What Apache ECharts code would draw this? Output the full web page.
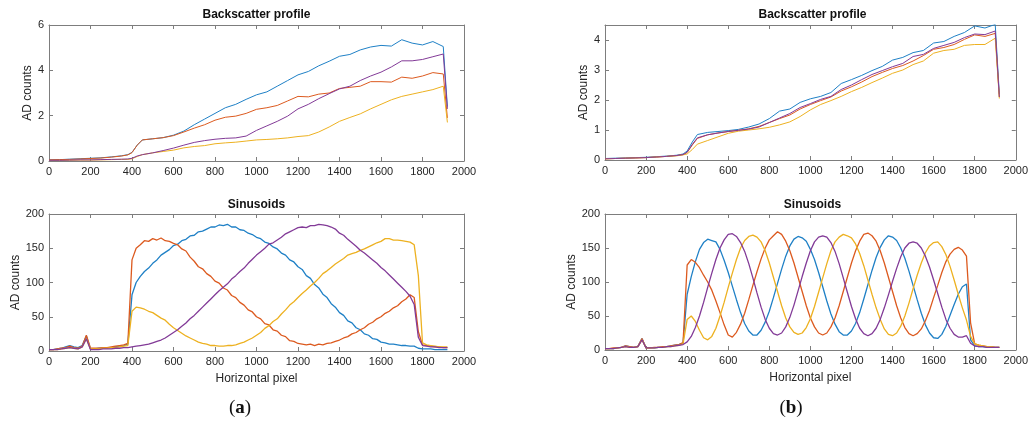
<!DOCTYPE html>
<html><head><meta charset="utf-8">
<script src="https://cdn.jsdelivr.net/npm/echarts@6/dist/echarts.min.js"></script>
<style>html,body{margin:0;padding:0;background:#fff}#c{width:1031px;height:432px}</style>
</head><body><div id="c"></div>
<script>
// ---------- data ----------
const xTicks = [0,200,400,600,800,1000,1200,1400,1600,1800,2000];
const bsX = [0,50,100,150,200,250,300,350,380,400,425,450,500,550,600,650,700,750,800,850,900,950,1000,1050,1100,1150,1200,1250,1300,1350,1400,1450,1500,1550,1600,1650,1700,1750,1800,1850,1900,1920];

const bsA_blue   = [0.05,0.06,0.08,0.10,0.12,0.14,0.18,0.23,0.28,0.38,0.70,0.93,0.98,1.03,1.14,1.32,1.60,1.85,2.10,2.35,2.50,2.72,2.92,3.05,3.30,3.55,3.80,3.95,4.20,4.40,4.62,4.70,4.90,5.03,5.10,5.07,5.35,5.20,5.12,5.27,5.05,2.40];
const bsA_orange = [0.05,0.06,0.07,0.09,0.11,0.13,0.17,0.22,0.27,0.37,0.70,0.93,0.98,1.03,1.12,1.28,1.45,1.60,1.80,1.93,1.98,2.10,2.28,2.35,2.45,2.65,2.85,2.83,2.95,3.00,3.20,3.25,3.30,3.50,3.50,3.48,3.70,3.65,3.75,3.90,3.84,1.90];
const bsA_yellow = [0.02,0.02,0.03,0.04,0.04,0.05,0.06,0.07,0.07,0.10,0.20,0.28,0.36,0.42,0.48,0.58,0.64,0.68,0.76,0.80,0.83,0.88,0.93,0.95,0.98,1.02,1.08,1.12,1.28,1.50,1.75,1.92,2.08,2.30,2.50,2.70,2.85,2.95,3.05,3.15,3.30,1.70];
const bsA_purple = [0.03,0.03,0.04,0.05,0.05,0.06,0.07,0.08,0.09,0.12,0.22,0.28,0.36,0.46,0.57,0.70,0.82,0.90,0.96,1.00,1.02,1.10,1.35,1.55,1.75,1.98,2.30,2.50,2.75,2.97,3.18,3.30,3.55,3.75,3.92,4.15,4.42,4.42,4.48,4.60,4.72,2.30];

const bsB_blue   = [0.05,0.06,0.07,0.08,0.09,0.11,0.13,0.16,0.20,0.30,0.60,0.85,0.92,0.95,0.98,1.02,1.10,1.20,1.38,1.63,1.70,1.92,2.04,2.12,2.25,2.55,2.68,2.82,2.98,3.12,3.33,3.42,3.58,3.65,3.90,3.95,4.12,4.25,4.47,4.40,4.52,2.20];
const bsB_orange = [0.04,0.05,0.06,0.07,0.08,0.10,0.12,0.15,0.18,0.25,0.50,0.72,0.84,0.90,0.95,0.99,1.04,1.12,1.25,1.38,1.50,1.70,1.85,1.98,2.10,2.30,2.44,2.60,2.78,2.92,3.05,3.15,3.30,3.48,3.69,3.75,3.85,4.02,4.17,4.12,4.22,2.10];
const bsB_yellow = [0.04,0.05,0.06,0.07,0.08,0.10,0.12,0.14,0.17,0.20,0.35,0.53,0.65,0.77,0.89,0.96,1.00,1.04,1.09,1.17,1.27,1.45,1.67,1.85,1.98,2.12,2.28,2.42,2.58,2.73,2.89,3.00,3.18,3.30,3.56,3.65,3.69,3.82,3.85,3.85,4.06,2.05];
const bsB_purple = [0.04,0.05,0.06,0.07,0.08,0.10,0.12,0.15,0.18,0.26,0.52,0.74,0.84,0.90,0.95,0.99,1.03,1.10,1.25,1.40,1.55,1.75,1.88,2.02,2.12,2.35,2.50,2.68,2.85,2.98,3.11,3.22,3.45,3.52,3.72,3.82,3.92,4.08,4.20,4.18,4.30,2.10];

const sinX = [0,20,40,60,80,100,120,140,160,180,200,220,240,260,280,300,320,340,360,380,
  400,420,440,460,480,500,520,540,560,580,600,620,640,660,680,700,720,740,760,780,
  800,820,840,860,880,900,920,940,960,980,1000,1020,1040,1060,1080,1100,1120,1140,1160,1180,
  1200,1220,1240,1260,1280,1300,1320,1340,1360,1380,1400,1420,1440,1460,1480,1500,1520,1540,1560,1580,
  1600,1620,1640,1660,1680,1700,1720,1740,1760,1780,1800,1820,1840,1860,1880,1900,1920];

const sinA_blue = [2,2,3,4,6,8,6,5,8,22,3,3,4,4,5,5,6,7,8,10,
  82,100,109,116,121,128,133,140,144,148, 154,156,161,163,168,169,174,175,178,181,
  181,184,183,185,181,181,177,176,172,170, 166,164,159,157,152,149,143,140,133,130,
  123,119,110,106,97,92,83,78,69,64, 56,52,44,41,34,31,25,23,18,17,
  13,12,10,10,9,8,8,7,7,4, 3,3,3,2,2,2,2];
const sinA_orange = [2,2,3,4,5,7,5,4,7,23,4,4,4,5,5,6,7,8,9,11,
  133,150,155,161,160,164,162,165,161,160, 157,155,149,146,137,131,123,120,113,109,
  102,99,92,89,81,78,71,67,60,57, 50,47,40,38,31,29,23,21,15,14,
  11,10,9,10,8,10,9,11,12,14, 16,19,21,25,27,31,34,39,42,47,
  50,55,58,63,66,72,76,82,78,28, 9,8,7,6,6,5,5];
const sinA_yellow = [2,2,2,3,4,5,4,3,6,18,3,3,3,4,4,5,5,6,7,8,
  58,64,63,61,58,56,52,48,45,39, 34,30,26,22,19,16,13,11,10,8,
  8,7,7,8,8,9,11,13,16,19, 23,27,33,37,43,47,54,60,67,72,
  78,84,89,95,100,106,113,117,122,127, 131,135,140,142,144,147,149,152,155,158,
  160,164,164,162,162,161,160,159,155,110, 12,9,8,7,6,6,6];
const sinA_purple = [2,2,2,3,4,5,4,3,6,18,2,2,2,3,3,3,4,4,5,5,
  6,7,8,9,10,12,14,16,19,23, 27,31,36,41,47,52,58,64,70,76,
  82,88,93,98,105,110,116,121,128,134, 140,145,150,156,158,162,166,171,174,177,
  180,181,180,183,183,185,184,183,181,178, 172,169,163,158,153,147,143,138,133,128,
  122,117,111,105,99,93,87,80,68,20, 8,7,6,6,5,5,5];

const sinB_blue = [2,2,2,3,4,6,5,4,5,17,3,3,3,4,4,5,6,7,8,10,
  82,108,130,148,158,163,161,159,148,132, 114,94,74,55,39,28,22,22,29,41,
  57,77,98,119,138,153,163,167,165,160, 148,133,114,93,72,53,38,27,22,22,
  28,39,55,75,96,117,136,151,162,168, 166,161,150,135,116,95,74,54,37,25,
  18,17,23,35,51,67,82,93,97,15, 6,5,5,4,4,4,4];
const sinB_orange = [2,2,3,3,4,6,5,4,5,17,3,3,4,4,5,5,6,7,8,11,
  125,133,129,121,110,100,88,72,55,37, 22,19,26,38,54,74,95,115,134,150,
  162,168,174,170,160,146,128,107,86,65, 47,34,25,22,25,34,47,65,86,107,
  128,146,160,170,172,168,160,146,128,107, 86,65,47,33,24,21,24,31,43,58,
  77,95,114,130,141,148,151,147,138,40, 9,7,6,5,5,4,4];
const sinB_yellow = [2,2,2,3,4,5,4,4,5,15,3,3,3,4,4,5,5,6,7,9,
  45,50,42,29,18,15,20,32,50,70, 92,113,133,150,161,167,169,166,159,146,
  128,107,86,65,47,34,26,23,25,33, 46,64,85,106,127,146,159,166,170,168,
  165,156,142,124,103,82,62,45,31,23, 21,25,35,50,69,90,110,128,143,153,
  158,159,152,140,123,103,82,62,44,20, 9,7,6,5,5,4,4];
const sinB_purple = [2,2,2,3,4,5,4,4,5,15,3,3,3,4,4,5,5,6,7,8,
  12,20,33,50,70,92,113,133,150,162, 170,171,167,158,145,127,106,84,63,45,
  32,24,22,25,34,48,66,87,108,128, 146,159,166,168,166,158,145,127,106,85,
  64,46,32,24,21,24,32,45,62,81, 101,120,137,150,157,159,157,150,138,122,
  103,83,63,45,32,23,19,19,21,10, 6,5,5,4,4,4,4];

// ---------- styling ----------
const C = {blue:'#1f80c6', orange:'#dc5a1f', yellow:'#edb120', purple:'#823a97'};
const FONT = '"Liberation Sans", Arial, sans-serif';
const FRAME = '#7d7d7d';
const TXT = '#262626';
const plain = v => String(v);

const grids = [
  {left:49, top:25, width:415, height:136},
  {left:49, top:214, width:415, height:137},
  {left:605, top:25, width:415, height:135},
  {left:605, top:214, width:415, height:136}
];
const yCfg = [
  {max:6, interval:2, gap:12, hideMax:false},
  {max:200, interval:50, gap:26, hideMax:false},
  {max:4.5, interval:1, gap:14, hideMax:true},
  {max:200, interval:50, gap:27, hideMax:false}
];

const xAxis = [], yAxis = [];
grids.forEach((g, i) => {
  const common = {
    gridIndex:i, type:'value', min:0, max:2000, interval:200,
    axisLine:{show:true, onZero:false, lineStyle:{color:FRAME, width:1}},
    axisTick:{show:true, inside:true, length:4, lineStyle:{color:FRAME}},
    splitLine:{show:false}
  };
  xAxis.push(Object.assign({}, common, {
    position:'bottom',
    axisLabel:{color:TXT, fontSize:11, fontFamily:FONT, margin:5, formatter:plain},
    name:(i===1||i===3)?'Horizontal pixel':'', nameLocation:'middle', nameGap:22,
    nameTextStyle:{color:TXT, fontSize:12, fontFamily:FONT}
  }));
  xAxis.push(Object.assign({}, common, {position:'top', axisLabel:{show:false}}));
  const yc = yCfg[i];
  const ycommon = {
    gridIndex:i, type:'value', min:0, max:yc.max, interval:yc.interval,
    axisLine:{show:true, onZero:false, lineStyle:{color:FRAME, width:1}},
    axisTick:{show:true, inside:true, length:4, lineStyle:{color:FRAME}},
    splitLine:{show:false}
  };
  yAxis.push(Object.assign({}, ycommon, {
    position:'left',
    axisLabel:{color:TXT, fontSize:11, fontFamily:FONT, margin:5, showMaxLabel:!yc.hideMax, formatter:plain},
    name:'AD counts', nameLocation:'middle', nameGap:yc.gap,
    nameTextStyle:{color:TXT, fontSize:12, fontFamily:FONT}
  }));
  yAxis.push(Object.assign({}, ycommon, {position:'right', axisLabel:{show:false}}));
});

function mk(xs, ys, color, gi, w) {
  return {
    type:'line', xAxisIndex:gi*2, yAxisIndex:gi*2, showSymbol:false, symbol:'none',
    data: xs.map((x, k) => [x, ys[k]]),
    lineStyle:{color:color, width:w}, itemStyle:{color:color},
    animation:false, silent:true
  };
}

const series = [
  mk(bsX, bsA_blue, C.blue, 0, 1), mk(bsX, bsA_orange, C.orange, 0, 1), mk(bsX, bsA_yellow, C.yellow, 0, 1), mk(bsX, bsA_purple, C.purple, 0, 1),
  mk(sinX, sinA_blue, C.blue, 1, 1.3), mk(sinX, sinA_orange, C.orange, 1, 1.3), mk(sinX, sinA_yellow, C.yellow, 1, 1.3), mk(sinX, sinA_purple, C.purple, 1, 1.3),
  mk(bsX, bsB_blue, C.blue, 2, 1), mk(bsX, bsB_orange, C.orange, 2, 1), mk(bsX, bsB_yellow, C.yellow, 2, 1), mk(bsX, bsB_purple, C.purple, 2, 1),
  mk(sinX, sinB_blue, C.blue, 3, 1.3), mk(sinX, sinB_orange, C.orange, 3, 1.3), mk(sinX, sinB_yellow, C.yellow, 3, 1.3), mk(sinX, sinB_purple, C.purple, 3, 1.3)
];

function title(text, x, y) {
  return {type:'text', x:x, y:y, silent:true,
    style:{text:text, align:'center', verticalAlign:'middle', fill:'#111', font:'bold 12px ' + FONT}};
}
function panelLabel(ch, x, y) {
  return {type:'text', x:x, y:y, silent:true,
    style:{text:'{p|(}{b|' + ch + '}{p|)}', align:'center', verticalAlign:'middle',
      rich:{p:{fontSize:19, fontFamily:'"Liberation Serif", "DejaVu Serif", serif', fill:'#111'},
            b:{fontSize:19, fontWeight:'bold', fontFamily:'"Liberation Serif", "DejaVu Serif", serif', fill:'#111'}}}};
}

const chart = echarts.init(document.getElementById('c'), null, {renderer:'canvas'});
chart.setOption({
  backgroundColor:'#ffffff',
  animation:false,
  grid: grids,
  xAxis: xAxis,
  yAxis: yAxis,
  series: series,
  graphic: [
    title('Backscatter profile', 256.5, 15),
    title('Sinusoids', 256.5, 205),
    title('Backscatter profile', 812.5, 15),
    title('Sinusoids', 812.5, 205),
    panelLabel('a', 240, 408),
    panelLabel('b', 791, 408)
  ]
});
</script></body></html>
